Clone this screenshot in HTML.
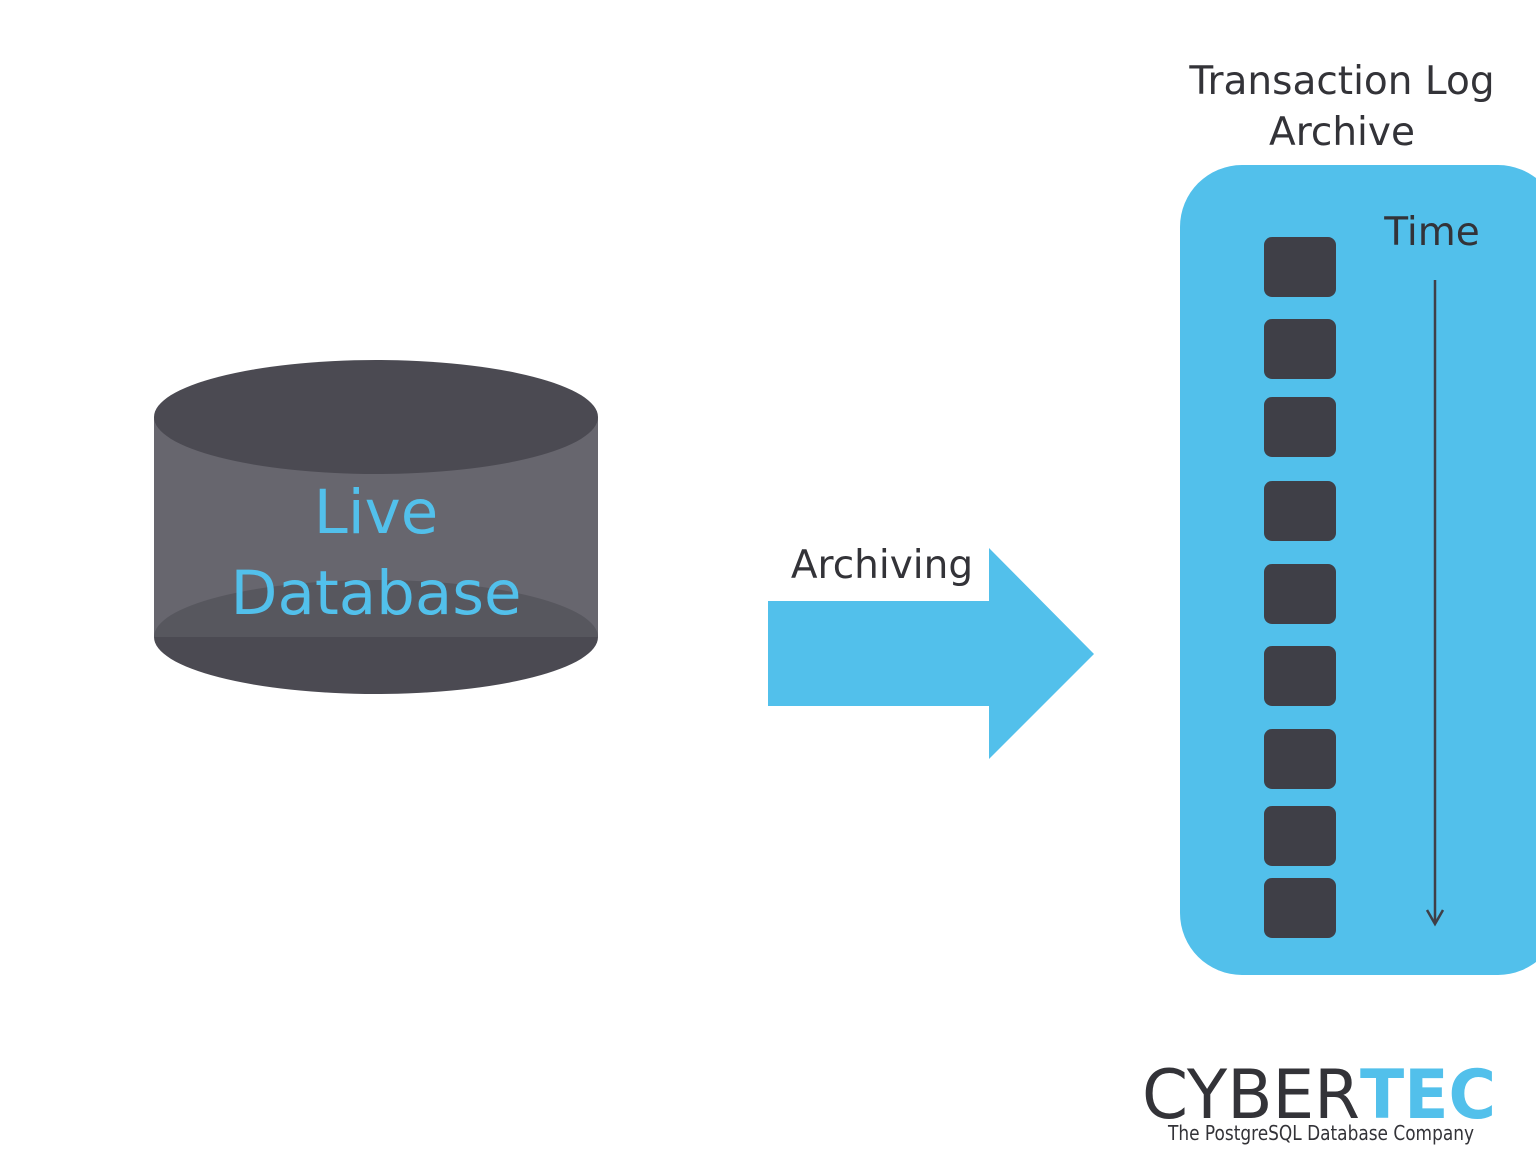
<!DOCTYPE html>
<html><head><style>
html,body{margin:0;padding:0;background:#fff;}
svg{display:block;}
text{font-family:"DejaVu Sans","Liberation Sans",sans-serif;}
</style></head><body>
<svg width="1536" height="1152" viewBox="0 0 1536 1152">
<rect width="1536" height="1152" fill="#fff"/>
<!-- cylinder -->
<rect x="154" y="417" width="444" height="220" fill="#67666e"/>
<path d="M154 637 A222 57 0 0 1 598 637" fill="#4b4a52" fill-opacity="0.55"/>
<path d="M154 637 A222 57 0 0 0 598 637" fill="#4b4a52"/>
<ellipse cx="376" cy="417" rx="222" ry="57" fill="#4b4a52"/>
<text x="376" y="533" font-size="61" fill="#52c0eb" text-anchor="middle">Live</text>
<text x="376" y="614" font-size="61" fill="#52c0eb" text-anchor="middle">Database</text>
<!-- arrow -->
<polygon points="768,601 989,601 989,548 1094,654 989,759 989,706 768,706" fill="#52c0eb"/>
<text x="882" y="578" font-size="39" fill="#333338" text-anchor="middle">Archiving</text>
<!-- archive -->
<text x="1342" y="94" font-size="39" fill="#333338" text-anchor="middle">Transaction Log</text>
<text x="1342" y="145" font-size="39" fill="#333338" text-anchor="middle">Archive</text>
<rect x="1180" y="165" width="380" height="810" rx="62" fill="#52c0eb"/>
<text x="1432" y="245" font-size="39" fill="#333338" text-anchor="middle">Time</text>
<g fill="#3f3f47">
<rect x="1264" y="237" width="72" height="60" rx="8"/>
<rect x="1264" y="319" width="72" height="60" rx="8"/>
<rect x="1264" y="397" width="72" height="60" rx="8"/>
<rect x="1264" y="481" width="72" height="60" rx="8"/>
<rect x="1264" y="564" width="72" height="60" rx="8"/>
<rect x="1264" y="646" width="72" height="60" rx="8"/>
<rect x="1264" y="729" width="72" height="60" rx="8"/>
<rect x="1264" y="806" width="72" height="60" rx="8"/>
<rect x="1264" y="878" width="72" height="60" rx="8"/>
</g>
<line x1="1435" y1="280" x2="1435" y2="924" stroke="#3f3f47" stroke-width="2.5"/>
<polyline points="1427,910 1435,924 1443,910" fill="none" stroke="#3f3f47" stroke-width="2.5"/>
<!-- logo -->
<text x="1142" y="1118" font-size="68" fill="#333338" font-family="Liberation Sans" textLength="218" lengthAdjust="spacingAndGlyphs">CYBER</text>
<text x="1360" y="1118" font-size="68" font-weight="bold" fill="#52c0eb" font-family="Liberation Sans" textLength="136" lengthAdjust="spacingAndGlyphs">TEC</text>
<text x="1168" y="1140" font-size="20" fill="#333338" font-family="Liberation Sans" textLength="306" lengthAdjust="spacingAndGlyphs">The PostgreSQL Database Company</text>
</svg>
</body></html>
